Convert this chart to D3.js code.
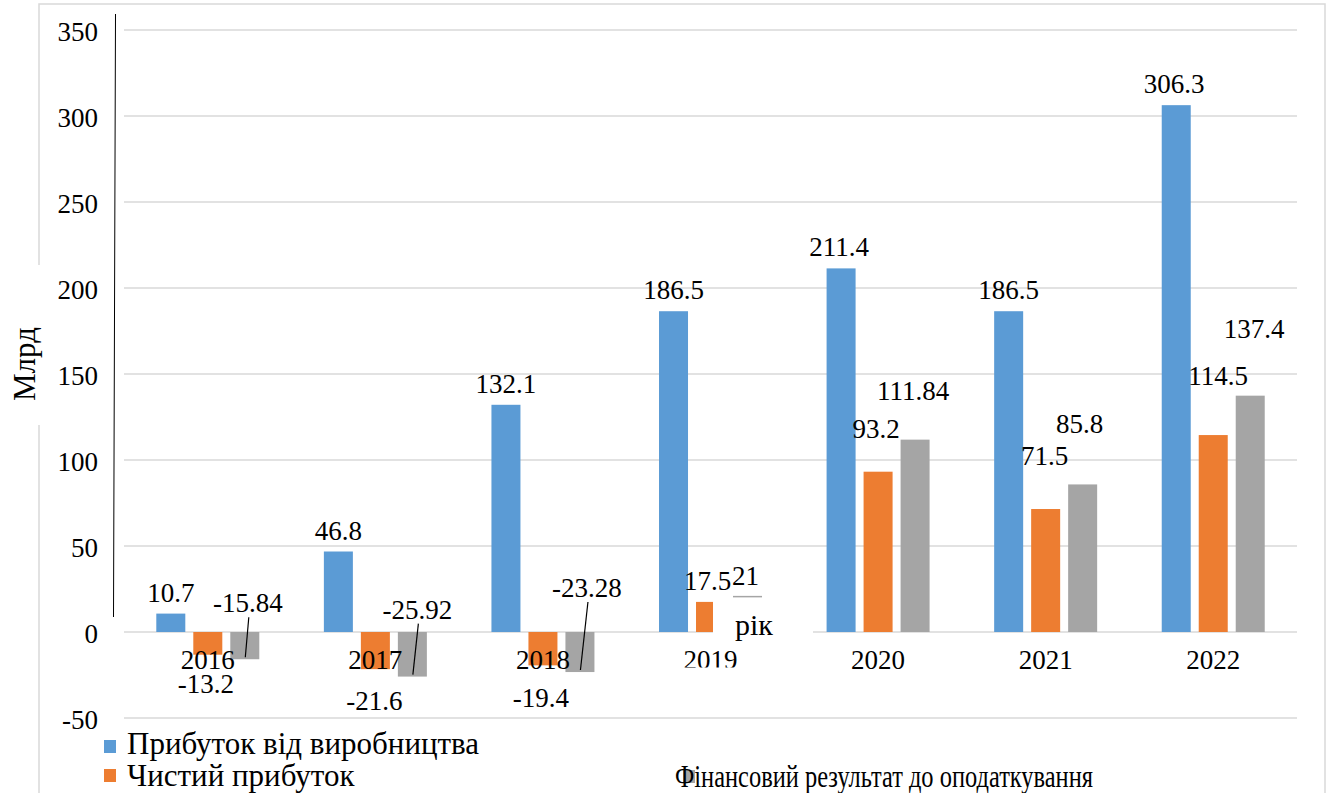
<!DOCTYPE html>
<html>
<head>
<meta charset="utf-8">
<script src="https://cdn.jsdelivr.net/npm/d3@7"></script>
<style>
  body { margin: 0; background: #fff; }
</style>
</head>
<body>
<svg id="chart"></svg>
<script>
const years = ["2016", "2017", "2018", "2019", "2020", "2021", "2022"];
const seriesNames = ["Прибуток від виробництва", "Чистий прибуток", "Фінансовий результат до оподаткування"];
const production = [10.7, 46.8, 132.1, 186.5, 211.4, 186.5, 306.3];
const netProfit = [-13.2, -21.6, -19.4, 17.5, 93.2, 71.5, 114.5];
const preTax = [-15.84, -25.92, -23.28, 21, 111.84, 85.8, 137.4];
const yTicks = [-50, 0, 50, 100, 150, 200, 250, 300, 350];
const yTitle = "Млрд";
const xTitle = "рік";

// where each data label sits, relative to the end of its bar [dx, dy]
const labelShift = [
    [[0, -12], [0, -12], [0, -12], [0, -12], [-2, -12], [0, -12], [-2, -12]],
    [[-2, 38], [-1, 41], [-2, 42], [-3, -12], [-2, -34], [-1, -44], [5, -50]],
    [[3, -47], [5, -58], [7, -75], [-2, -11], [-2, -40], [-3, -51], [4, -58]]
];
const leaders = [0, 1, 2]; // gray labels that got a leader line

const FONT = "'Liberation Serif', Tinos, 'Times New Roman', 'DejaVu Serif', serif";

const width = 1330,
      height = 793,
      svg = d3.select("#chart")
              .attr("width", width)
              .attr("height", height)
              .style("font-family", FONT);

const color = d3.scaleOrdinal()
    .domain(seriesNames)
    .range(["#5b9bd5", "#ed7d31", "#a5a5a5"]);

const series = [production, netProfit, preTax];

const x0 = d3.scaleBand()
    .domain(years)
    .range([124, 1297]);

const x1 = d3.scaleBand()
    .domain(seriesNames)
    .range([32.3, 135.3])
    .paddingInner(0.216);

const y = d3.scaleLinear()
    .domain([-50, 350])
    .range([718, 30]);

function txt(sel, size) {
    return sel.attr("font-family", FONT)
        .style("font-size", size + "px")
        .attr("fill", "#000");
}

// outer frame
svg.append("rect")
    .attr("x", 39).attr("y", 4)
    .attr("width", 1286).attr("height", 820)
    .attr("fill", "none")
    .attr("stroke", "#d9d9d9")
    .attr("stroke-width", 1.5);

// gridlines + ticks
const grid = svg.append("g");
grid.selectAll("line")
    .data(yTicks)
    .enter().append("line")
        .attr("x1", 124).attr("x2", 1297)
        .attr("y1", (d) => y(d)).attr("y2", (d) => y(d))
        .attr("stroke", "#d9d9d9")
        .attr("stroke-width", 1.5);
txt(grid.selectAll("text")
    .data(yTicks)
    .enter().append("text")
        .attr("x", 98)
        .attr("y", (d) => y(d) + 11)
        .attr("text-anchor", "end"), 27)
        .text((d) => d);

// stray vertical rule
svg.append("line")
    .attr("x1", 115.5).attr("y1", 14)
    .attr("x2", 113.5).attr("y2", 617)
    .attr("stroke", "#000")
    .attr("stroke-width", 1);

// y title with its white box over the frame
svg.append("rect")
    .attr("x", 5).attr("y", 265)
    .attr("width", 42).attr("height", 160)
    .attr("fill", "#fff");
txt(svg.append("text")
    .attr("transform", "translate(35,364) rotate(-90)")
    .attr("text-anchor", "middle"), 31)
    .text(yTitle);

// bars
const groups = svg.selectAll(".year")
    .data(years)
    .enter().append("g")
        .attr("class", "year")
        .attr("transform", (d) => `translate(${x0(d)},0)`);

groups.selectAll("rect")
    .data((d, j) => series.map((s, i) => ({ key: seriesNames[i], value: s[j] })))
    .enter().append("rect")
        .attr("x", (d) => x1(d.key))
        .attr("width", x1.bandwidth())
        .attr("y", (d) => y(Math.max(0, d.value)))
        .attr("height", (d) => Math.abs(y(d.value) - y(0)))
        .attr("fill", (d) => color(d.key));

// white box of the x title that covers part of 2019
svg.append("rect")
    .attr("x", 713).attr("y", y(21) + 1.5)
    .attr("width", 100).attr("height", 48)
    .attr("fill", "#fff");

// data labels
const labels = [];
series.forEach((s, i) => s.forEach((v, j) => {
    labels.push({
        i: i, j: j, value: v,
        cx: x0(years[j]) + x1(seriesNames[i]) + x1.bandwidth() / 2,
        cy: y(v)
    });
}));

txt(svg.append("g").selectAll("text")
    .data(labels)
    .enter().append("text")
        .attr("x", (d) => d.cx + labelShift[d.i][d.j][0])
        .attr("y", (d) => d.cy + labelShift[d.i][d.j][1])
        .attr("text-anchor", "middle"), 27)
        .text((d) => d.value);

svg.append("g").selectAll("line")
    .data(labels.filter((d) => d.i === 2 && leaders.includes(d.j)))
    .enter().append("line")
        .attr("x1", (d) => d.cx + labelShift[2][d.j][0] + 1)
        .attr("y1", (d) => d.cy + labelShift[2][d.j][1] + 5)
        .attr("x2", (d) => d.cx + 0.5)
        .attr("y2", (d) => d.cy - 2)
        .attr("stroke", "#000")
        .attr("stroke-width", 1.2);

// category labels
txt(svg.append("g").selectAll("text")
    .data(years)
    .enter().append("text")
        .attr("x", (d) => x0(d) + x0.bandwidth() / 2)
        .attr("y", 669)
        .attr("text-anchor", "middle"), 27)
        .text((d) => d);

// the 2019 label is cut at its foot
svg.append("rect")
    .attr("x", 676).attr("y", 667.5)
    .attr("width", 68).attr("height", 14)
    .attr("fill", "#fff");

txt(svg.append("text")
    .attr("x", 754).attr("y", 635)
    .attr("text-anchor", "middle"), 30)
    .text(xTitle);

// legend (third entry is squeezed in the original)
const legendPos = [[104, 740, 127, 754], [104, 769, 127, 786], [683, 770, 675, 787]];
const legendSqueeze = [null, null, 418];
const legend = svg.append("g");
legend.selectAll("rect")
    .data(seriesNames)
    .enter().append("rect")
        .attr("x", (d, i) => legendPos[i][0])
        .attr("y", (d, i) => legendPos[i][1])
        .attr("width", 12).attr("height", 13)
        .attr("fill", (d) => color(d));
txt(legend.selectAll("text")
    .data(seriesNames)
    .enter().append("text")
        .attr("x", (d, i) => legendPos[i][2])
        .attr("y", (d, i) => legendPos[i][3]), 31)
        .text((d) => d)
        .each(function(d, i) {
            if (legendSqueeze[i]) {
                d3.select(this)
                    .attr("textLength", legendSqueeze[i])
                    .attr("lengthAdjust", "spacingAndGlyphs");
            }
        });
</script>
</body>
</html>
